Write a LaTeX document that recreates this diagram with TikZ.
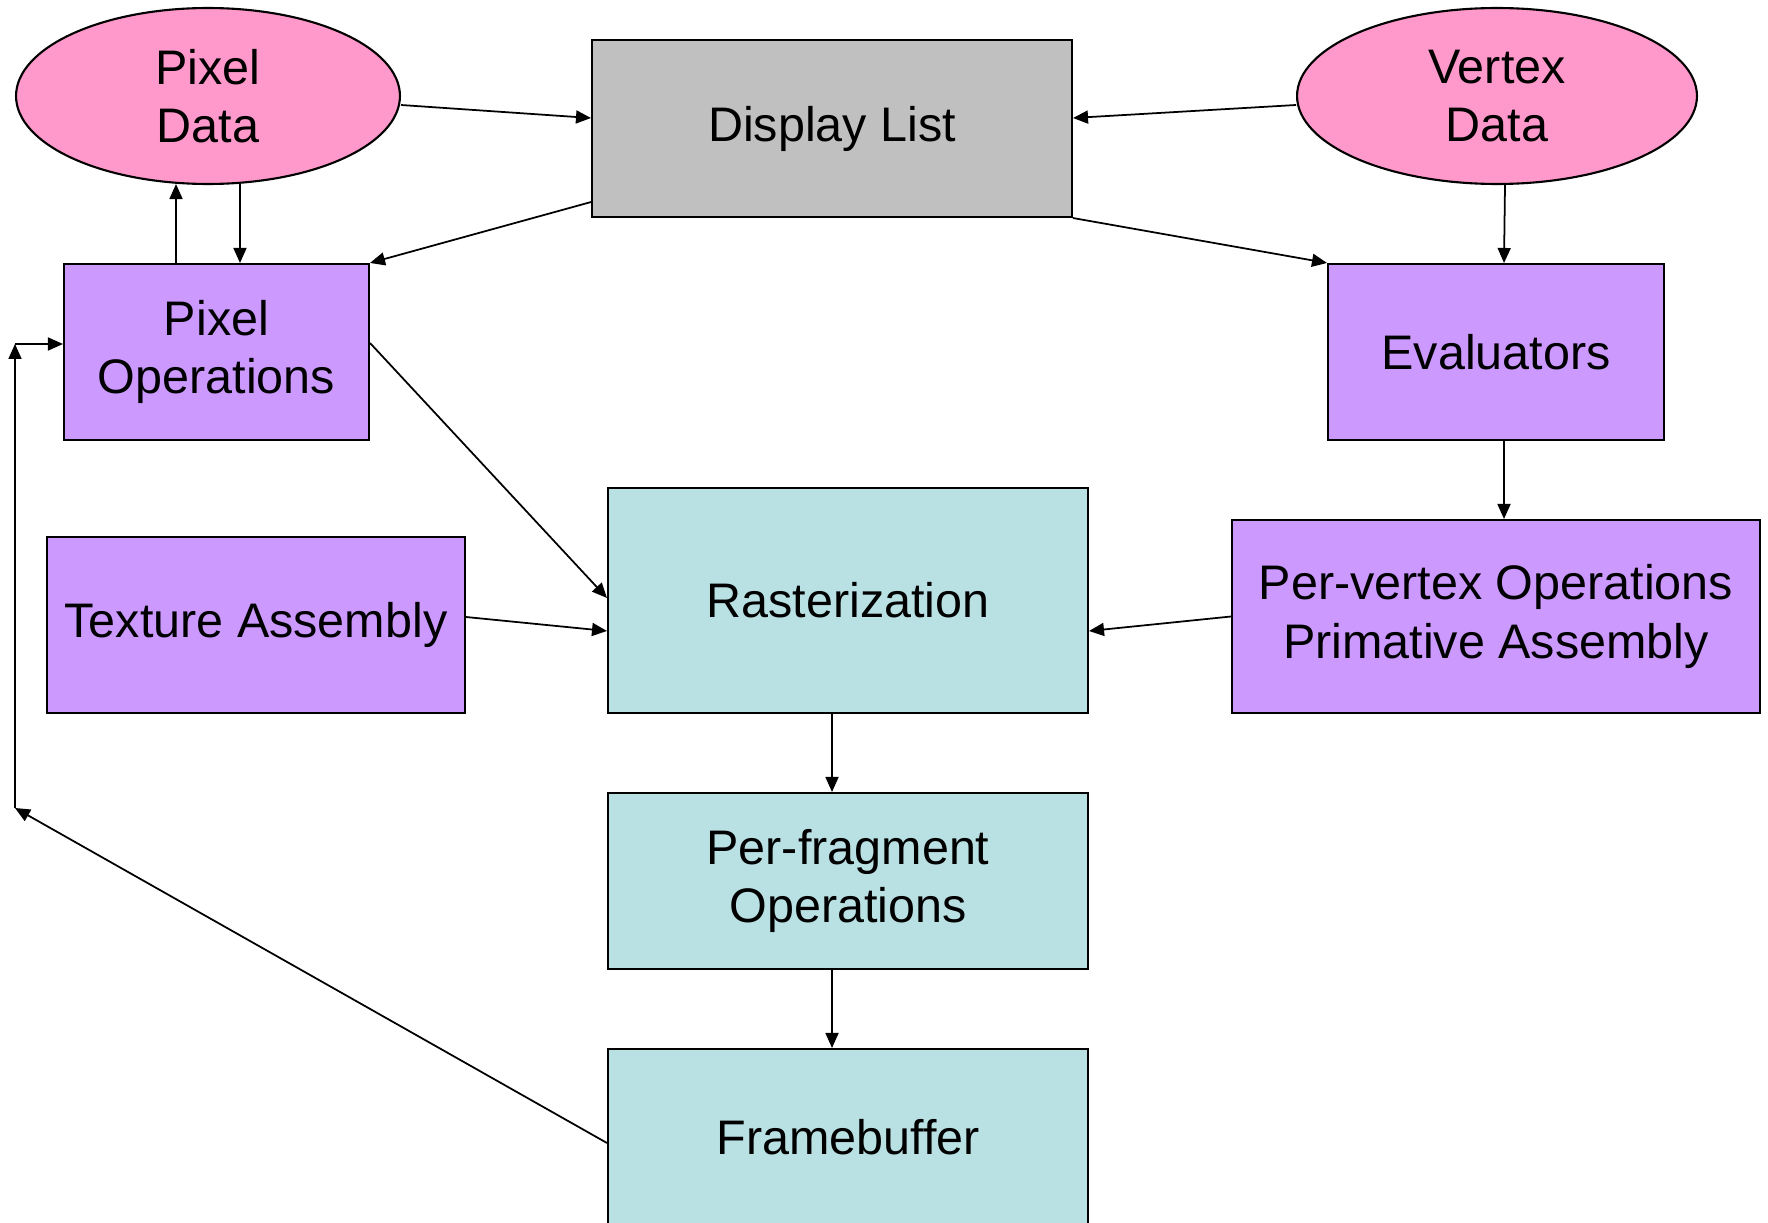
\documentclass[tikz,border=0pt]{standalone}
\usepackage{fontspec}
\setmainfont{Liberation Sans}
\usepackage{xcolor}
\usepackage{tikz}
\usetikzlibrary{shapes.geometric,arrows.meta}

\definecolor{datapink}{RGB}{255,153,204}
\definecolor{oppurple}{RGB}{204,153,255}
\definecolor{rastblue}{RGB}{185,224,227}
\definecolor{listgray}{RGB}{192,192,192}

\begin{document}
\begin{tikzpicture}[x=0.02cm, y=-0.02cm]
      \tikzset{block/.style={rectangle, draw, line width=1.2pt, inner sep=0pt, align=center, font=\fontsize{27.6}{33.2}\selectfont},
               datablob/.style={ellipse, draw, line width=1.2pt, inner sep=0pt, fill=datapink, align=center, font=\fontsize{27.6}{33.2}\selectfont},
               flow/.style={-{Triangle[length=0.3cm,width=0.26cm]}, line width=1pt}}
      \useasboundingbox (0,0) rectangle (1768,1223);
      \node[datablob, minimum width=7.68cm, minimum height=3.52cm] (pixdata) at (208,96) {Pixel\\Data};
      \node[datablob, minimum width=8cm, minimum height=3.52cm] (vertdata) at (1497,96) {Vertex\\Data};
      \node[block, fill=listgray, minimum width=9.6cm, minimum height=3.54cm] (dlist) at (832,128.5) {Display List};
      \node[block, fill=oppurple, minimum width=6.1cm, minimum height=3.52cm] (pixops) at (216.5,352) {Pixel\\Operations};
      \node[block, fill=oppurple, minimum width=6.72cm, minimum height=3.52cm] (evals) at (1496,352) {Evaluators};
      \node[block, fill=oppurple, minimum width=8.36cm, minimum height=3.52cm] (texasm) at (256,625) {Texture Assembly};
      \node[block, fill=rastblue, minimum width=9.6cm, minimum height=4.5cm] (raster) at (848,600.5) {Rasterization};
      \node[block, fill=oppurple, minimum width=10.56cm, minimum height=3.86cm] (pervert) at (1496,616.5) {Per-vertex Operations\\Primative Assembly};
      \node[block, fill=rastblue, minimum width=9.6cm, minimum height=3.52cm] (perfrag) at (848,881) {Per-fragment\\Operations};
      \node[block, fill=rastblue, minimum width=9.6cm, minimum height=3.52cm] (fbuf) at (848,1137) {Framebuffer};
      \coordinate (fbcorner) at (15,808);
      \coordinate (fbtop) at (15,344);
      % into the display list
      \draw[flow] ([yshift=-0.18cm]pixdata.east) -- ([yshift=0.21cm]dlist.west);
      \draw[flow] ([yshift=-0.18cm]vertdata.west) -- ([yshift=0.21cm]dlist.east);
      \draw[flow] ([yshift=0.32cm]dlist.south west) -- (pixops.north east);
      \draw[flow] (dlist.south east) -- (evals.north west);
      \draw[flow] ([xshift=0.16cm]vertdata.south) -- ([xshift=0.16cm]evals.north);
      \draw[flow] ([xshift=-0.81cm]pixops.north) -- ([xshift=-0.64cm,yshift=0.02cm]pixdata.south);
      \draw[flow] ([xshift=0.64cm,yshift=0.02cm]pixdata.south) -- ([xshift=0.47cm]pixops.north);
      \draw[flow] ([xshift=0.16cm]evals.south) -- ([xshift=0.16cm]pervert.north);
      % rasterization
      \draw[flow] ([yshift=0.18cm]pixops.east) -- ([yshift=0.05cm]raster.west);
      \draw[flow] ([yshift=0.16cm]texasm.east) -- ([yshift=-0.61cm]raster.west);
      \draw[flow] (pervert.west) -- ([yshift=-0.61cm]raster.east);
      \draw[flow] ([xshift=-0.32cm]raster.south) -- ([xshift=-0.32cm]perfrag.north);
      \draw[flow] ([xshift=-0.32cm]perfrag.south) -- ([xshift=-0.32cm]fbuf.north);
      % feedback to pixel operations
      \draw[flow] ([yshift=-0.12cm]fbuf.west) -- (fbcorner);
      \draw[flow] (fbcorner) -- (fbtop);
      \draw[flow] (fbtop) -- (fbtop -| pixops.west);
    \end{tikzpicture}
\end{document}
